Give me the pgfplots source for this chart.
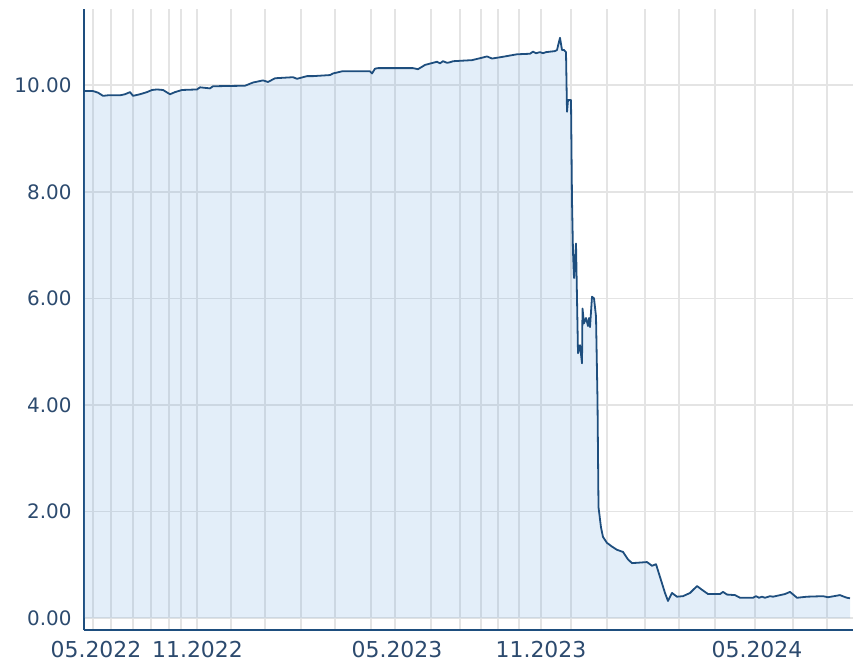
\documentclass[border=0pt]{standalone}
\usepackage{pgfplots}
\pgfplotsset{compat=1.18}
\usepackage{pgfplotstable}
\usepackage{fontspec}
\setmainfont{DejaVu Sans}
\usetikzlibrary{calc}
\definecolor{lineblue}{RGB}{30,78,126}
\definecolor{fillblue}{RGB}{100,160,220}
\definecolor{labelblue}{RGB}{44,74,110}
\definecolor{gridgray}{RGB}{228,228,228}

\pgfplotstableread{
x y
84 9.89
93 9.89
98 9.86
103 9.80
108 9.81
120 9.81
125 9.83
130 9.87
133 9.80
140 9.83
147 9.87
152 9.91
157 9.92
163 9.91
170 9.83
175 9.87
182 9.91
197 9.92
200 9.96
210 9.94
213 9.98
245 9.99
253 10.05
263 10.09
268 10.06
275 10.13
293 10.15
297 10.12
307 10.17
313 10.17
330 10.19
333 10.22
342 10.26
370 10.26
372 10.22
375 10.31
378 10.32
413 10.32
418 10.30
425 10.38
437 10.44
440 10.41
443 10.45
447 10.42
450 10.43
453 10.45
472 10.47
483 10.52
487 10.54
492 10.50
502 10.53
517 10.58
530 10.59
533 10.63
536 10.60
540 10.62
543 10.60
546 10.62
555 10.64
557 10.66
560 10.89
562 10.66
564 10.66
566 10.62
567 9.50
568 9.72
571 9.72
572 7.84
573 6.87
574 6.38
576 7.03
578 4.97
580 5.12
582 4.78
582.5 5.81
584 5.53
586 5.63
588 5.48
589 5.63
590 5.46
592 6.03
594 6.00
596 5.66
597.5 4.09
598.5 2.08
601 1.70
603 1.52
607 1.41
612 1.34
617 1.28
623 1.24
628 1.10
632 1.03
647 1.05
652 0.98
656 1.01
660 0.77
665 0.47
668 0.32
672 0.47
677 0.40
683 0.41
690 0.47
697 0.60
702 0.53
708 0.45
720 0.45
723 0.49
727 0.44
735 0.43
740 0.38
753 0.38
756 0.41
759 0.38
762 0.40
765 0.38
770 0.41
773 0.40
785 0.45
790 0.49
797 0.38
807 0.40
823 0.41
828 0.39
840 0.43
844 0.40
847 0.38
850 0.37
}\datatable

\begin{document}
\begin{tikzpicture}
\begin{axis}[
  name=ax,
  scale only axis,
  width=769bp, height=621bp,
  xmin=84, xmax=853,
  ymin=-0.225, ymax=11.43,
  axis x line*=bottom,
  axis y line*=left,
  axis line style={draw=lineblue, line width=2bp},
  major tick length=0pt,
  grid=major,
  major grid style={draw=gridgray, line width=1.5bp},
  xtick={93,111,133,151,169,181,197,231,265,301,335,371,395,431,460,481,498,519,541,571,607,645,679,715,755,793,827},
  xticklabels=\empty,
  extra x ticks={96,197.5,397,541,757},
  extra x tick labels={05.2022,11.2022,05.2023,11.2023,05.2024},
  extra x tick style={grid=none, major tick length=0pt,
    xticklabel style={font=\fontsize{22}{25}\selectfont, text=labelblue, yshift=-8bp}},
  ytick={0,2,4,6,8,10},
  yticklabel style={/pgf/number format/fixed, /pgf/number format/fixed zerofill, /pgf/number format/precision=2, xshift=-9bp, font=\fontsize{20}{23}\selectfont, text=labelblue},
  /pgf/number format/assume math mode=true,
]
\addplot[draw=none, fill=fillblue, fill opacity=0.18] table[x=x,y=y] {\datatable} \closedcycle;
\addplot[draw=lineblue, line width=1.8bp, line join=round] table[x=x,y=y] {\datatable};
\end{axis}
\path[use as bounding box] ($(ax.south west)+(-84bp,-34bp)$) rectangle ($(ax.north east)+(1bp,9bp)$);
\end{tikzpicture}
\end{document}
